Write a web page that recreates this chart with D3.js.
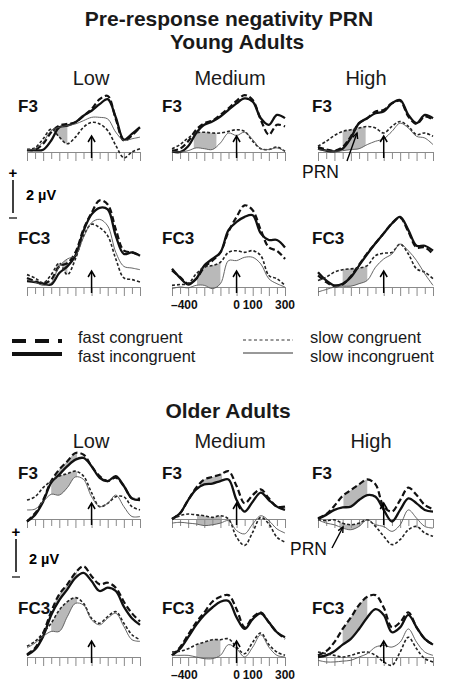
<!DOCTYPE html>
<html><head><meta charset="utf-8">
<script src="https://cdn.jsdelivr.net/npm/d3@7/dist/d3.min.js"></script>
<style>
html,body{margin:0;padding:0;background:#fff;}
svg{display:block;font-family:"Liberation Sans",Arial,Helvetica,sans-serif;}
</style></head>
<body><svg id="c" width="456" height="683"></svg>
<script>
// ---- data (µV), response-locked, -400..300 ms ----
const times = [-400,-350,-300,-250,-200,-150,-100,-50,0,50,100,150,200,250,300];
const seriesNames = ["fast congruent","fast incongruent","slow congruent","slow incongruent"];
const groupTitles = ["Young Adults","Older Adults"];
const levels = ["Low","Medium","High"];
const sites = ["F3","FC3"];
const tickLabels = [[-400,"\u2013400"],[0,"0"],[100,"100"],[300,"300"]];

// order in each array: fast congruent, fast incongruent, slow congruent, slow incongruent
const youngF3Low = [
 [0.1,0.14,0.5,1.2,1.6,1.7,1.8,2.2,2.6,3.2,3.4,2.0,0.7,1.0,1.5],
 [0.14,0.1,0.14,0.7,1.5,1.6,1.8,2.2,2.5,2.9,3.2,2.1,0.75,1.1,1.5],
 [0.14,0.26,0.8,1.4,0.9,0.5,0.9,1.5,1.8,1.7,1.3,0.4,-0.35,0,0.2],
 [0.14,0.2,0.6,1.3,1.5,1.6,1.7,1.9,2.1,2.1,2.0,1.2,0.7,0.8,0.9]];
const youngF3Med = [
 [0.08,0.2,0.65,1.35,1.75,1.9,2.25,2.65,3.1,3.45,3.15,1.95,1.05,1.65,1.55],
 [0.04,0,0.35,1.15,1.65,1.85,2.15,2.55,2.95,3.25,3.05,2.05,1.65,2.25,2.05],
 [0.2,0.45,0.85,1.15,1.2,1.15,1.15,1.25,1.35,1.25,0.65,0.2,0.15,0.3,0.04],
 [0.04,0,0.08,0.25,0.2,0.15,0.55,1.15,1.0,1.2,0.75,0.2,0.15,0.25,0.04]];
const youngF3High = [
 [0.3,0.15,0.08,0.3,0.95,1.75,2.05,2.45,2.55,2.95,3.1,2.15,1.7,2.15,1.95],
 [0.2,0.08,0.04,0.2,0.85,1.75,2.05,2.35,2.45,2.95,3.15,2.25,1.75,2.25,2.05],
 [0.35,0.65,1.0,1.25,1.35,1.45,1.55,1.45,1.15,1.55,1.85,1.55,1.05,1.15,0.95],
 [0.15,0.08,0.04,0.08,0.15,0.2,0.45,0.65,0.8,1.25,1.75,1.45,0.95,0.85,0.45]];
const youngFC3Low = [
 [0.55,0.35,0.2,0.45,1.25,1.45,2.1,3.5,4.5,5.25,5.0,3.5,2.2,2.1,1.9],
 [0.35,0.3,0.2,0.15,0.85,1.25,1.9,3.4,4.4,4.8,4.7,3.1,2.0,2.1,1.9],
 [0.75,0.55,0.25,0.75,1.45,0.75,1.7,3.1,3.8,3.6,3.1,1.7,0.55,0.45,0.3],
 [0.45,0.3,0.1,0.25,1.25,1.7,1.9,3.0,3.9,4.1,3.7,2.1,1.25,1.15,1.05]];
const youngFC3Med = [
 [1.0,0.6,0.2,0.5,1.2,1.6,2.1,3.35,4.25,4.95,4.65,3.45,2.4,2.2,1.7],
 [1.1,0.55,0.15,0.5,1.3,1.7,2.1,3.45,3.95,4.25,4.35,3.25,2.85,2.85,2.4],
 [0.1,0.15,0.2,0.8,1.2,1.3,1.5,2.1,2.2,2.1,2.2,1.9,0.7,0.5,0.1],
 [-0.1,0,-0.05,0.1,0.1,-0.1,0.2,1.6,1.6,1.8,1.8,1.4,0.5,0.2,0]];
const youngFC3High = [
 [0.7,0.3,0.05,0.15,0.65,1.35,2.05,2.65,3.25,3.85,4.2,3.35,2.4,2.4,2.0],
 [0.9,0.4,0.1,0.2,0.6,1.3,2.0,2.65,3.25,3.85,4.25,3.45,2.5,2.5,2.2],
 [0.4,0.6,0.9,1.05,1.1,1.15,1.3,1.9,2.05,2.1,2.6,2.0,1.1,0.9,0.5],
 [-0.3,-0.15,0,0.05,0.05,0.2,0.4,1.2,1.7,2.0,2.6,2.2,1.6,0.8,0.1]];
const olderF3Low = [
 [-0.15,0.35,1.15,2.3,3.0,3.5,4.0,3.9,3.2,2.6,2.3,2.5,2.0,1.25,1.25],
 [-0.15,0.25,1.05,2.2,2.7,3.2,3.6,3.7,3.2,2.5,2.3,2.6,2.0,1.25,1.15],
 [1.15,1.35,1.9,2.3,2.6,2.75,2.9,2.6,1.6,0.75,0.95,1.35,1.35,0.75,0.55],
 [0.55,0.6,1.05,1.5,1.45,1.9,2.55,2.4,1.35,0.75,0.95,1.45,0.75,0.15,0.15]];
const olderF3Med = [
 [0,0.35,1.15,1.9,2.4,2.55,2.7,2.9,2.0,0.95,1.45,1.8,1.25,0.75,0.75],
 [0,0.35,1.15,1.8,2.1,2.15,2.3,2.4,1.15,0.45,1.05,1.6,1.15,0.75,0.55],
 [0,0.2,0.3,0.25,0.2,0.1,0.2,0,-1.1,-1.6,-0.8,0.1,-0.3,-1.1,-1.4],
 [-0.25,-0.2,-0.25,-0.3,-0.4,-0.35,-0.25,-0.1,-0.7,-0.9,-0.3,0.2,-0.1,-0.6,-0.85]];
const olderF3High = [
 [0.05,0.3,0.8,1.4,1.75,2.1,2.4,2.1,0.75,0.45,1.15,1.9,1.45,0.85,0.6],
 [0,0.25,0.55,0.7,0.75,1.15,1.45,1.35,0.55,-0.15,0.55,1.25,0.95,0.55,0.45],
 [-0.05,-0.1,-0.05,-0.25,-0.35,-0.25,-0.05,-0.45,-1.05,-1.55,-1.25,-0.65,-0.45,-0.85,-1.05],
 [-0.05,-0.25,-0.35,-0.55,-0.65,-0.45,-0.05,-0.35,-0.45,-0.75,-0.35,0.55,0.05,-0.45,-0.55]];
const olderFC3Low = [
 [0.15,0.55,1.45,2.75,3.8,4.4,5.1,5.5,4.9,4.4,4.5,4.2,3.35,2.65,2.15],
 [0.1,0.45,1.25,2.55,3.45,4.1,4.8,5.1,4.6,4.0,4.2,4.0,3.05,2.35,1.95],
 [0.65,0.95,1.45,2.05,2.85,3.35,3.6,3.25,2.35,2.05,2.45,2.75,2.05,1.35,1.05],
 [0.55,0.85,1.25,1.55,1.55,2.45,3.25,3.15,2.25,1.95,2.35,2.65,1.85,1.05,0.95]];
const olderFC3Med = [
 [0.1,0.6,1.35,2.1,2.7,3.35,3.65,3.75,2.9,1.8,2.4,2.7,2.1,1.5,1.1],
 [0.1,0.5,1.2,1.95,2.55,3.0,3.35,3.4,2.4,1.7,2.3,2.65,2.1,1.5,1.2],
 [0.3,0.35,0.5,0.75,0.9,1.05,1.05,1.1,0.6,0.2,0.9,1.45,0.75,0.3,0.1],
 [0.1,0.1,0.1,0,-0.1,-0.1,0.1,0.75,0.5,0,0.6,1.35,0.6,0.1,0]];
const olderFC3High = [
 [0.1,0.35,0.9,1.7,2.4,3.15,3.65,3.75,3.0,1.8,2.1,2.7,1.8,1.1,0.75],
 [0,0.1,0.35,0.75,1.1,1.7,2.4,2.9,2.55,1.5,1.8,2.55,1.8,1.1,0.75],
 [0.3,0.2,0.1,0,0.1,0.25,0.3,0.1,-0.3,-0.5,0.3,1.2,0.5,-0.1,-0.3],
 [-0.2,-0.3,-0.3,-0.25,-0.2,0,0.2,0.6,0.7,0.6,0.9,1.7,0.9,0.3,0.1]];

// shaded PRN windows: [upper series, lower series, t0, t1]
const shadeYoungF3 = [[[2,3,-255,-150]],[[2,3,-265,-125]],[[2,3,-250,-110]]];
const shadeYoungFC3 = [[[2,3,-225,-150]],[[2,3,-245,-100]],[[2,3,-250,-100]]];
const shadeOlderF3 = [[[0,1,-230,-90],[2,3,-250,-90]],[[0,1,-225,-90],[2,3,-245,-90]],[[0,1,-245,-100],[2,3,-270,-125]]];
const shadeOlderFC3 = [[[0,1,-230,-90],[2,3,-250,-90]],[[2,3,-250,-100]],[[0,1,-250,-100]]];

const panels = [
 [[youngF3Low,youngF3Med,youngF3High],[youngFC3Low,youngFC3Med,youngFC3High]],
 [[olderF3Low,olderF3Med,olderF3High],[olderFC3Low,olderFC3Med,olderFC3High]]];
const shades = [[shadeYoungF3,shadeYoungFC3],[shadeOlderF3,shadeOlderFC3]];

// ---- layout ----
const svg = d3.select("#c");
const colX = [27,172,318], colW = [113,113,115];
const rowBase = [[152,287],[519,657]];
const pxPerUV = 16.5;
const styles = [
 {w:2.2, dash:"6,3", c:"#111"},
 {w:2.3, dash:null, c:"#111"},
 {w:1.6, dash:"3,2", c:"#222"},
 {w:0.9, dash:null, c:"#555"}];

let clipId = 0;
const defs = svg.append("defs");

function drawPanel(g, s, l){
  const base = rowBase[g][s];
  const x = d3.scaleLinear().domain([-400,300]).range([colX[l], colX[l]+colW[l]]);
  const y = d3.scaleLinear().domain([0,1]).range([base, base-pxPerUV]);
  const data = panels[g][s][l];
  const curve = d3.curveCatmullRom.alpha(0.5);
  const gp = svg.append("g");
  // shading
  shades[g][s][l].forEach(([a,b,t0,t1])=>{
    const id = "clip"+(clipId++);
    defs.append("clipPath").attr("id",id).append("rect")
      .attr("x",x(t0)).attr("y",0).attr("width",x(t1)-x(t0)).attr("height",683);
    const area = d3.area().x((d,i)=>x(times[i])).y0((d,i)=>y(data[b][i])).y1(d=>y(d)).curve(curve);
    gp.append("path").attr("d",area(data[a])).attr("fill","#b9b9b9").attr("clip-path","url(#"+id+")");
  });
  // axis
  const ax = d3.axisBottom(x).tickValues(times).tickSize(0).tickFormat("");
  const axg = gp.append("g").attr("transform","translate(0,"+base+")").call(ax);
  axg.select(".domain").attr("stroke","#8a8a8a").attr("stroke-width",1.2);
  axg.selectAll(".tick line").remove();
  axg.selectAll(".tick").append("line").attr("y1",0)
    .attr("y2",d=> (d%100===0)?9:7).attr("stroke","#8a8a8a").attr("stroke-width",1);
  // lines
  const line = d3.line().x((d,i)=>x(times[i])).y(d=>y(d)).curve(curve);
  data.forEach((ser,k)=>{
    const st = styles[k];
    gp.append("path").attr("d",line(ser)).attr("fill","none")
      .attr("stroke",st.c).attr("stroke-width",st.w)
      .attr("stroke-dasharray",st.dash).attr("stroke-linejoin","round");
  });
  // response arrow at 0
  const x0 = x(0);
  gp.append("line").attr("x1",x0).attr("x2",x0).attr("y1",base+6).attr("y2",base-15)
    .attr("stroke","#000").attr("stroke-width",1.5);
  gp.append("path").attr("d",`M${x0-3.5},${base-10} L${x0},${base-16} L${x0+3.5},${base-10}`)
    .attr("fill","none").attr("stroke","#000").attr("stroke-width",1.5);
  // site label
  gp.append("text").attr("x",[18,162,312][l]).attr("y",base-40-(s===1?3:0))
    .attr("font-size",17).attr("font-weight","bold").attr("fill","#111").text(sites[s]);
  // tick labels on medium FC3
  if(l===1 && s===1){
    tickLabels.forEach(([t,lab])=>{
      gp.append("text").attr("x", t===-400? x(t)-1 : x(t)).attr("y",base+22)
        .attr("text-anchor", t===-400?"start":"middle")
        .attr("font-size",12).attr("font-weight","bold").attr("fill","#111").text(lab);
    });
  }
}

for(let g=0;g<2;g++) for(let s=0;s<2;s++) for(let l=0;l<3;l++) drawPanel(g,s,l);

// titles
svg.append("text").attr("x",229).attr("y",26).attr("text-anchor","middle")
  .attr("font-size",21).attr("font-weight","bold").attr("fill","#1a1a1a").text("Pre-response negativity PRN");
svg.append("text").attr("x",237).attr("y",49).attr("text-anchor","middle")
  .attr("font-size",21).attr("font-weight","bold").attr("fill","#1a1a1a").text(groupTitles[0]);
svg.append("text").attr("x",228).attr("y",418).attr("text-anchor","middle")
  .attr("font-size",21).attr("font-weight","bold").attr("fill","#1a1a1a").text(groupTitles[1]);
const headX = [[91,230,366],[91,230,371]], headY=[85,448];
for(let g=0;g<2;g++) levels.forEach((lv,l)=>{
  svg.append("text").attr("x",headX[g][l]).attr("y",headY[g]).attr("text-anchor","middle")
    .attr("font-size",20).attr("fill","#1a1a1a").text(lv);
});

// scale bars
function scaleBar(xl, yTop, len, labelY){
  svg.append("text").attr("x",xl).attr("y",yTop-2).attr("text-anchor","middle")
    .attr("font-size",15).attr("font-weight","bold").text("+");
  svg.append("line").attr("x1",xl).attr("x2",xl).attr("y1",yTop).attr("y2",yTop+len)
    .attr("stroke","#000").attr("stroke-width",1.5);
  svg.append("line").attr("x1",xl-4).attr("x2",xl+4).attr("y1",yTop+len+5).attr("y2",yTop+len+5)
    .attr("stroke","#000").attr("stroke-width",1.2);
  svg.append("text").attr("x",xl+13).attr("y",labelY).attr("font-size",14.5)
    .attr("font-weight","bold").text("2 \u00b5V");
}
scaleBar(13,180,2*pxPerUV,200);
scaleBar(16,539,2*pxPerUV,564);

// PRN labels
function prn(tx,ty,x1,y1,x2,y2){
  svg.append("text").attr("x",tx).attr("y",ty).attr("font-size",17.5).attr("fill","#111").text("PRN");
  svg.append("line").attr("x1",x1).attr("y1",y1).attr("x2",x2).attr("y2",y2)
    .attr("stroke","#000").attr("stroke-width",1.4);
  const ang = Math.atan2(y2-y1,x2-x1), L=6;
  const p1=[x2-L*Math.cos(ang-0.45), y2-L*Math.sin(ang-0.45)];
  const p2=[x2-L*Math.cos(ang+0.45), y2-L*Math.sin(ang+0.45)];
  svg.append("path").attr("d",`M${p1} L${x2},${y2} L${p2}`).attr("fill","none")
    .attr("stroke","#000").attr("stroke-width",1.4);
}
prn(302,178,347,161,357,133);
prn(290,555,332,548,343,527);

// legend
const legItems = [
 {x1:12,x2:62,y:341,w:4,dash:"14,9",c:"#111",tx:78,ty:343},
 {x1:12,x2:62,y:354,w:4,dash:null,c:"#111",tx:78,ty:362},
 {x1:243,x2:293,y:340,w:1,dash:"3,2.5",c:"#333",tx:310,ty:343},
 {x1:243,x2:293,y:353,w:1,dash:null,c:"#333",tx:310,ty:362}];
legItems.forEach((it,k)=>{
  svg.append("line").attr("x1",it.x1).attr("x2",it.x2).attr("y1",it.y).attr("y2",it.y)
    .attr("stroke",it.c).attr("stroke-width",it.w).attr("stroke-dasharray",it.dash);
  svg.append("text").attr("x",it.tx).attr("y",it.ty).attr("font-size",16.5).attr("fill","#1a1a1a")
    .text(seriesNames[k]);
});
</script></body></html>
